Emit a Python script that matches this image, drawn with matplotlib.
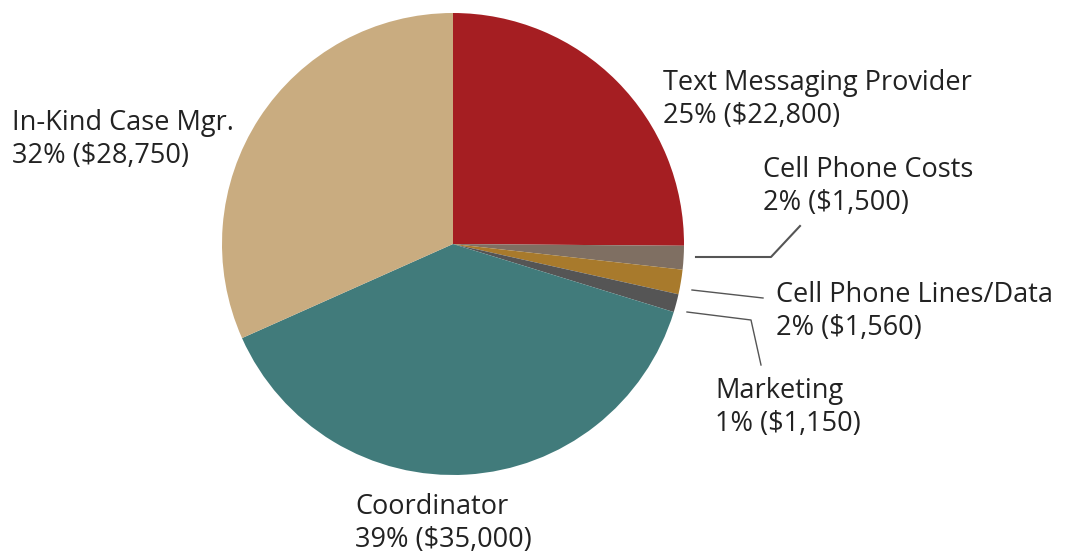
import matplotlib.pyplot as plt

W, H = 1072, 553

labels = ["Text Messaging Provider", "Cell Phone Costs", "Cell Phone Lines/Data",
          "Marketing", "Coordinator", "In-Kind Case Mgr."]
amounts = [22800, 1500, 1560, 1150, 35000, 28750]
pcts = [25, 2, 2, 1, 39, 32]
colors = ["#A51E22", "#7F6F62", "#A87A2C", "#555555", "#417B7B", "#C9AC80"]

# label anchor (left x, first baseline) in pixels from top-left
label_pos = [(663, 90), (763, 177), (776, 302), (715, 398), (355, 514), (12, 130)]

plt.rcParams['font.family'] = ['Open Sans', 'DejaVu Sans']

fig = plt.figure(figsize=(W / 100, H / 100), dpi=100)
ax = fig.add_axes([0, 0, 1, 1])

ax.pie(amounts, colors=colors, startangle=90, counterclock=False,
       center=(453, H - 244), radius=231, wedgeprops={'linewidth': 0})
ax.set_xlim(0, W)
ax.set_ylim(0, H)
ax.set_aspect('equal')
ax.axis('off')

for lab, amt, p, (x, y) in zip(labels, amounts, pcts, label_pos):
    ax.text(x, H - y, lab, fontsize=19.5, color="#222222", fontweight='normal',
            va='baseline', ha='left')
    ax.text(x, H - y - 33, f"{p}% (${amt:,})", fontsize=19.5, color="#222222",
            fontweight='normal', va='baseline', ha='left')

# leader lines
ax.plot([696, 771, 800], [H - 257, H - 257, H - 226], color="#555555", lw=1.5)
ax.plot([692, 763], [H - 290, H - 298], color="#555555", lw=1.0)
ax.plot([687, 751, 761], [H - 312, H - 320, H - 365], color="#555555", lw=1.0)

fig.savefig("out.png", dpi=100)
